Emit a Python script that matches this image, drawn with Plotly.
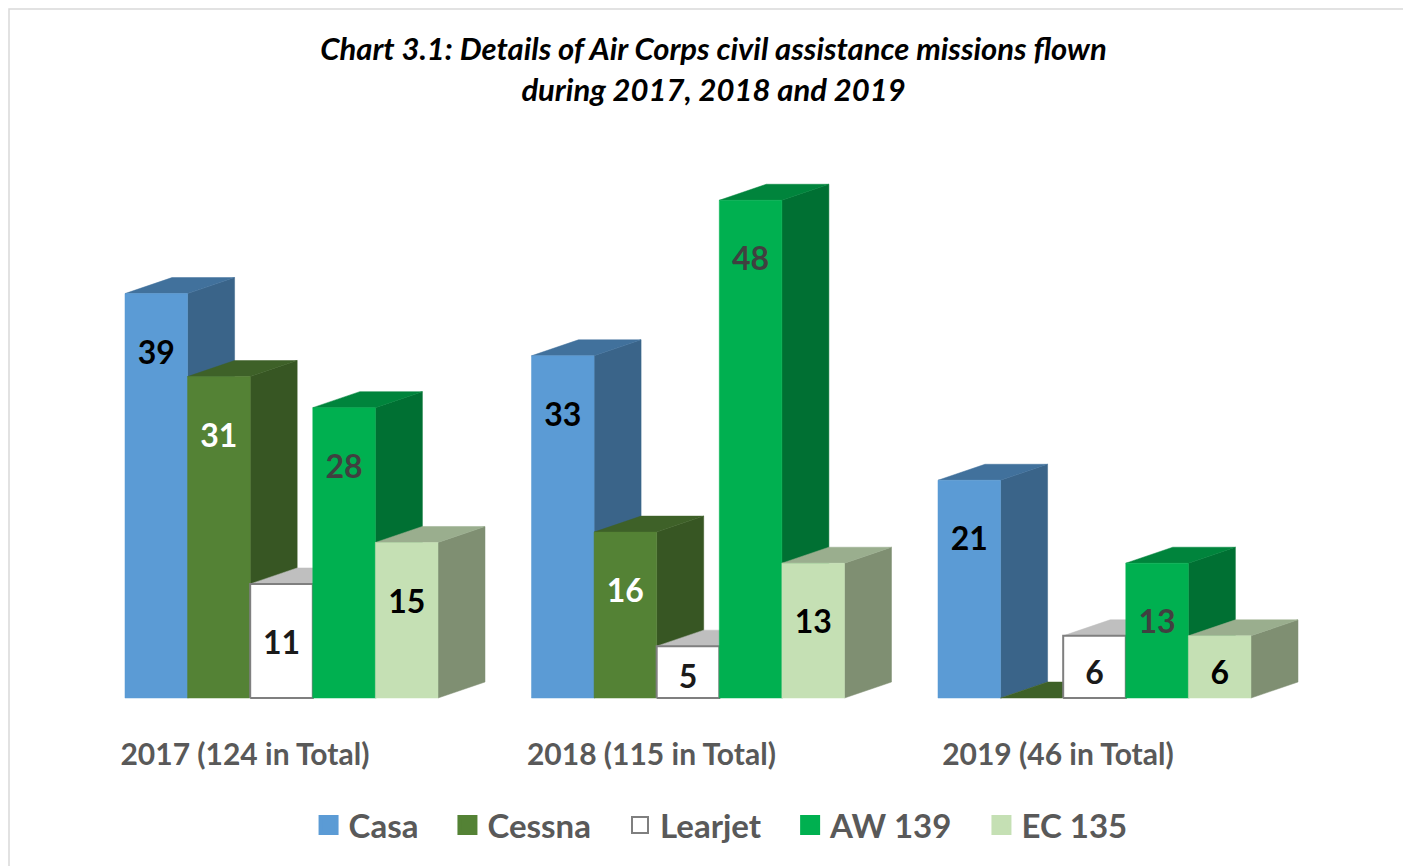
import plotly.graph_objects as go

# ---------------- data ----------------
categories = ["2017 (124 in Total)", "2018 (115 in Total)", "2019 (46 in Total)"]
series_names = ["Casa", "Cessna", "Learjet", "AW 139", "EC 135"]
casa = [39, 33, 21]
cessna = [31, 16, 0]
learjet = [11, 5, 6]
aw139 = [28, 48, 13]
ec135 = [15, 13, 6]
series_values = [casa, cessna, learjet, aw139, ec135]

# ---------------- style ----------------
front_colors = ["#5B9BD5", "#548235", "#FFFFFF", "#00B050", "#C5E0B4"]
top_colors = ["#41719C", "#3E6128", "#BFBFBF", "#00843C", "#9AAE8E"]
side_colors = ["#3A6489", "#375623", "#A6A6A6", "#007033", "#7F8F72"]
edge_colors = [None, None, "#7F7F7F", None, None]
label_colors = ["#000000", "#FFFFFF", "#1A1A1A", "#404040", "#000000"]
FONT = "Lato"
LEGEND_PAD = "\u00a0\u00a0\u00a0"

BAR_W = 0.154      # width of one column (x units, 1 unit = one category)
DEPTH_X = 0.1156   # 3-D depth offset in x units
DEPTH_Y = 1.543    # 3-D depth offset in y units
X_RANGE = [-0.6728, 2.7983]
Y_RANGE = [-16.97, 66.54]

fig = go.Figure()
n_series = len(series_names)

for g, cat in enumerate(categories):
    for s in range(n_series):
        v = series_values[s][g]
        xl = g - n_series / 2 * BAR_W + s * BAR_W
        xr = xl + BAR_W
        # right side face
        fig.add_trace(go.Scatter(
            x=[xr, xr + DEPTH_X, xr + DEPTH_X, xr, xr],
            y=[0, DEPTH_Y, v + DEPTH_Y, v, 0],
            mode="lines", fill="toself", fillcolor=side_colors[s],
            line=dict(width=0.5, color=side_colors[s]),
            showlegend=False, hoverinfo="skip"))
        # top face
        fig.add_trace(go.Scatter(
            x=[xl, xl + DEPTH_X, xr + DEPTH_X, xr, xl],
            y=[v, v + DEPTH_Y, v + DEPTH_Y, v, v],
            mode="lines", fill="toself", fillcolor=top_colors[s],
            line=dict(width=0.5, color=top_colors[s]),
            showlegend=False, hoverinfo="skip"))
        # front face
        if v > 0:
            ec = edge_colors[s] or front_colors[s]
            ew = 2 if edge_colors[s] else 0.5
            fig.add_trace(go.Scatter(
                x=[xl, xl, xr, xr, xl],
                y=[0, v, v, 0, 0],
                mode="lines", fill="toself", fillcolor=front_colors[s],
                line=dict(width=ew, color=ec),
                name=series_names[s], showlegend=False,
                hovertemplate=f"{series_names[s]}<br>{cat}: {v}<extra></extra>"))

# data labels
for s in range(n_series):
    xs, ys, ts = [], [], []
    for g in range(len(categories)):
        v = series_values[s][g]
        if v <= 0:
            continue
        xl = g - n_series / 2 * BAR_W + s * BAR_W
        xs.append(xl + BAR_W / 2)
        ys.append(v - min(6.0, 0.65 * v))
        ts.append(str(v))
    fig.add_trace(go.Scatter(
        x=xs, y=ys, text=ts, mode="text", textposition="middle center",
        textfont=dict(family=FONT, size=32, color=label_colors[s], weight="bold"),
        showlegend=False, hoverinfo="skip"))

# legend entries
for s in range(n_series):
    lc = edge_colors[s] or front_colors[s]
    lw = 2 if edge_colors[s] else 4
    label = series_names[s] + (LEGEND_PAD if s < n_series - 1 else "")
    fig.add_trace(go.Scatter(
        x=[None], y=[None], mode="markers", name=label,
        marker=dict(symbol="square", size=16, color=front_colors[s],
                    line=dict(color=lc, width=lw))))

fig.update_layout(
    width=1411, height=866,
    margin=dict(l=0, r=0, t=0, b=0),
    paper_bgcolor="white", plot_bgcolor="white",
    title=dict(
        text="<b><i>Chart 3.1: Details of Air Corps civil assistance missions flown"
             "<br>during 2017, 2018 and 2019</i></b>",
        x=0.5, xanchor="center", y=0.9395, yanchor="middle",
        font=dict(family=FONT, size=31, color="#000000")),
    xaxis=dict(range=X_RANGE, showgrid=False, zeroline=False, showline=False,
               tickmode="array", tickvals=[g - 0.09 for g in range(len(categories))],
               ticktext=categories, ticks="", anchor="free", position=0.1612,
               tickfont=dict(family=FONT, size=30, color="#595959", weight="bold")),
    yaxis=dict(range=Y_RANGE, showgrid=False, zeroline=False, showline=False,
               showticklabels=False, ticks=""),
    legend=dict(orientation="h", x=0.505, xanchor="center", y=0.0566, yanchor="middle",
                font=dict(family=FONT, size=33, color="#595959", weight="bold"),
                itemsizing="trace", bgcolor="rgba(0,0,0,0)"),
    shapes=[dict(type="rect", xref="paper", yref="paper",
                 x0=1 / 1411, x1=1.01, y0=-0.01, y1=1 - 1 / 866,
                 line=dict(color="#D9D9D9", width=1.5), layer="below")],
    showlegend=True,
)

fig.write_html("out.html")
